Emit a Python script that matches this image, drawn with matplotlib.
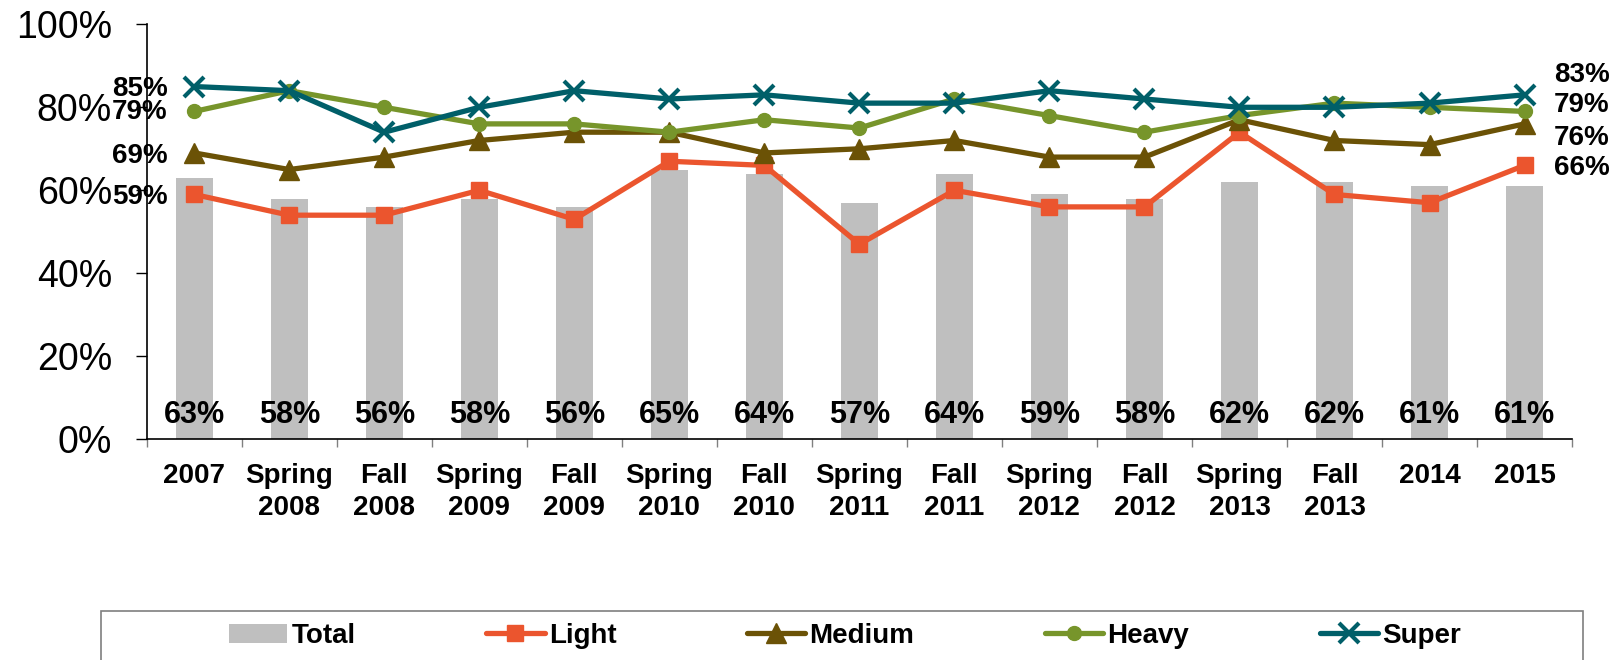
import matplotlib
matplotlib.use("Agg")
import matplotlib.pyplot as plt
from matplotlib.patches import Rectangle
from matplotlib.ticker import FixedLocator, FuncFormatter
import numpy as np

plt.rcParams["font.family"] = ["Liberation Sans", "DejaVu Sans"]

categories = ["2007", "Spring\n2008", "Fall\n2008", "Spring\n2009", "Fall\n2009",
              "Spring\n2010", "Fall\n2010", "Spring\n2011", "Fall\n2011",
              "Spring\n2012", "Fall\n2012", "Spring\n2013", "Fall\n2013",
              "2014", "2015"]

total = [63, 58, 56, 58, 56, 65, 64, 57, 64, 59, 58, 62, 62, 61, 61]
light = [59, 54, 54, 60, 53, 67, 66, 47, 60, 56, 56, 74, 59, 57, 66]
medium = [69, 65, 68, 72, 74, 74, 69, 70, 72, 68, 68, 77, 72, 71, 76]
heavy = [79, 84, 80, 76, 76, 74, 77, 75, 82, 78, 74, 78, 81, 80, 79]
super_ = [85, 84, 74, 80, 84, 82, 83, 81, 81, 84, 82, 80, 80, 81, 83]

C_TOTAL = "#BFBFBF"
C_LIGHT = "#EB552E"
C_MEDIUM = "#6B5206"
C_HEAVY = "#77952B"
C_SUPER = "#005F69"

LABEL_FS = 20
TOTAL_FS = 22
CAP = 0.358  # half the digit height, as a fraction of the font size

fig = plt.figure(figsize=(16.23, 6.6), dpi=100)
ax = fig.add_axes([0.0904, 0.3344, 0.8782, 0.6288])

x = np.arange(len(categories))

bars = ax.bar(x, total, width=0.39, color=C_TOTAL, label="Total", zorder=1)

series = [
    ("Light", light, C_LIGHT, dict(marker="s", markersize=12)),
    ("Medium", medium, C_MEDIUM, dict(marker="^", markersize=14)),
    ("Heavy", heavy, C_HEAVY, dict(marker="o", markersize=10)),
    ("Super", super_, C_SUPER, dict(marker="x", markersize=15, markeredgewidth=3)),
]
handles = [bars]
for name, vals, col, mk in series:
    (ln,) = ax.plot(x, vals, color=col, lw=3.8, label=name, zorder=3,
                    solid_capstyle="round", **mk)
    handles.append(ln)

# Total labels near the base of each bar
for xi, v in zip(x, total):
    ax.annotate(f"{v}%", (xi, 6.6), xytext=(0, -CAP * TOTAL_FS),
                textcoords="offset points", ha="center", va="baseline",
                fontsize=TOTAL_FS, fontweight="bold", zorder=4)

# End-point labels (first and last category), nudged apart vertically
left_offsets = {"Super": 0, "Heavy": 1.5, "Medium": 0, "Light": 0}
right_offsets = {"Super": 16.5, "Heavy": 7, "Medium": -8, "Light": 0}
for name, vals, col, mk in series:
    ax.annotate(f"{vals[0]}%", (x[0], vals[0]),
                xytext=(-19, left_offsets[name] - CAP * LABEL_FS),
                textcoords="offset points", ha="right", va="baseline",
                fontsize=LABEL_FS, fontweight="bold", zorder=5, annotation_clip=False)
    ax.annotate(f"{vals[-1]}%", (x[-1], vals[-1]),
                xytext=(21, right_offsets[name] - CAP * LABEL_FS),
                textcoords="offset points", ha="left", va="baseline",
                fontsize=LABEL_FS, fontweight="bold", zorder=5, annotation_clip=False)

ax.set_xlim(-0.5, len(categories) - 0.5)
ax.set_ylim(0, 100)
ax.set_yticks([0, 20, 40, 60, 80, 100])
ax.yaxis.set_major_formatter(FuncFormatter(lambda v, p: f"{int(v)}%"))
ax.tick_params(axis="y", direction="out", length=8, width=1, labelsize=27, pad=17)

ax.set_xticks(x)
ax.set_xticklabels(categories, fontsize=LABEL_FS, fontweight="bold", linespacing=1.3)
ax.tick_params(axis="x", which="major", length=0, pad=17)
ax.xaxis.set_minor_locator(FixedLocator(np.arange(-0.5, len(categories), 1.0)))
ax.tick_params(axis="x", which="minor", direction="out", length=6, width=1,
               color="#808080")

for s in ["top", "right"]:
    ax.spines[s].set_visible(False)
ax.spines["left"].set_linewidth(1.2)
ax.spines["bottom"].set_linewidth(1.2)

# Legend frame running off the bottom edge
fig.add_artist(Rectangle((100.7 / 1623, -0.05), (1582.7 - 100.7) / 1623,
                         0.05 + (660 - 611) / 660,
                         transform=fig.transFigure, fill=False, edgecolor="#7F7F7F",
                         linewidth=1.2))
leg = fig.legend(handles=handles, labels=["Total", "Light", "Medium", "Heavy", "Super"],
                 loc="center", bbox_to_anchor=(845 / 1623, 1 - 636 / 660), ncol=5,
                 frameon=False, prop=dict(size=LABEL_FS, weight="bold"),
                 handlelength=2.1, handletextpad=0.15, columnspacing=4.7,
                 borderaxespad=0)

fig.savefig("out.png", dpi=100)
